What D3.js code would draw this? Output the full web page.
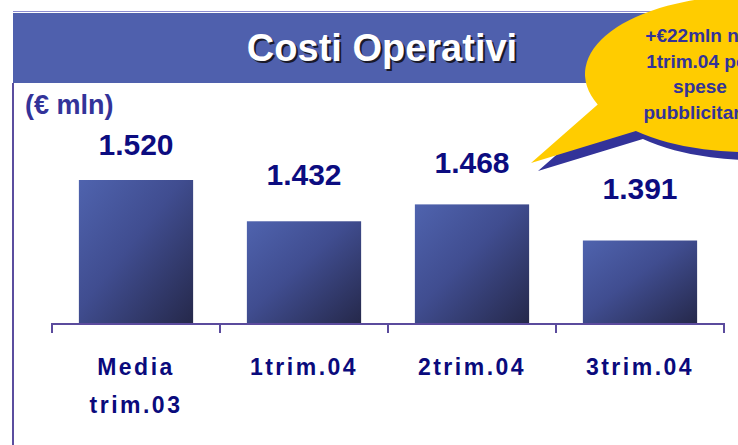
<!DOCTYPE html>
<html>
<head>
<meta charset="utf-8">
<script src="https://cdn.jsdelivr.net/npm/d3@7"></script>
<style>
  html, body { margin: 0; padding: 0; background: #fff; }
  svg { display: block; font-family: Arial, 'Liberation Sans', sans-serif; }
</style>
</head>
<body>
<div id="chart"></div>
<script>
// Data
const categories = ['Media\ntrim.03', '1trim.04', '2trim.04', '3trim.04']
const values = [1520, 1432, 1468, 1391]
const title = 'Costi Operativi'
const unitLabel = '(€ mln)'
const calloutLines = ['+€22mln nel', '1trim.04 per', 'spese', 'pubblicitarie']

function draw() {
    const dimensions = { width: 738, height: 445 }

    const svg = d3.select('#chart')
        .append('svg')
        .attr('width', dimensions.width)
        .attr('height', dimensions.height)

    const it = d3.formatLocale({ decimal: ',', thousands: '.', grouping: [3], currency: ['€', ''] })
    const fmt = it.format(',d')

    // gradient for the bars
    const defs = svg.append('defs')
    const grad = defs.append('linearGradient')
        .attr('id', 'barGrad')
        .attr('x1', 0).attr('y1', 0).attr('x2', 1).attr('y2', 1)
    grad.append('stop').attr('offset', '0%').attr('stop-color', '#4f63ae')
    grad.append('stop').attr('offset', '45%').attr('stop-color', '#404d90')
    grad.append('stop').attr('offset', '100%').attr('stop-color', '#25284a')

    // header band
    svg.append('line')
        .attr('x1', 13).attr('x2', dimensions.width)
        .attr('y1', 11.5).attr('y2', 11.5)
        .attr('stroke', '#8c8cd0').attr('stroke-width', 1)
    svg.append('rect')
        .attr('x', 13).attr('y', 13)
        .attr('width', dimensions.width - 13).attr('height', 70)
        .attr('fill', '#4f60ad')

    // left frame line
    svg.append('line')
        .attr('x1', 13).attr('x2', 13)
        .attr('y1', 83).attr('y2', dimensions.height)
        .attr('stroke', '#5b4e9f').attr('stroke-width', 2)

    // title with shadow
    svg.append('text')
        .attr('x', 384).attr('y', 63)
        .attr('text-anchor', 'middle')
        .attr('font-size', 38).attr('font-weight', 'bold')
        .attr('fill', '#1a1a2a')
        .text(title)
    svg.append('text')
        .attr('x', 382).attr('y', 61)
        .attr('text-anchor', 'middle')
        .attr('font-size', 38).attr('font-weight', 'bold')
        .attr('fill', '#fff')
        .text(title)

    svg.append('text')
        .attr('x', 25).attr('y', 114)
        .attr('font-size', 27).attr('font-weight', 'bold')
        .attr('fill', '#333399')
        .text(unitLabel)

    // scales
    const xScale = d3.scaleBand()
        .domain(categories)
        .range([52, 724])
        .paddingInner(0.32)
        .paddingOuter(0.16)

    const yScale = d3.scaleLinear()
        .domain([1213, 1520])
        .range([324, 180])

    const labelY = d3.scaleLinear()
        .domain(d3.extent(values))
        .range([199, 155])

    const gap = xScale.step() - xScale.bandwidth()

    // bars
    svg.append('g')
        .selectAll('rect')
        .data(categories)
        .join('rect')
        .attr('x', (d) => xScale(d))
        .attr('y', (d, i) => yScale(values[i]))
        .attr('width', xScale.bandwidth())
        .attr('height', (d, i) => yScale.range()[0] - yScale(values[i]))
        .attr('fill', 'url(#barGrad)')

    // value labels
    svg.append('g')
        .selectAll('text')
        .data(categories)
        .join('text')
        .attr('x', (d) => xScale(d) + xScale.bandwidth() / 2)
        .attr('y', (d, i) => labelY(values[i]))
        .attr('text-anchor', 'middle')
        .attr('font-size', 30).attr('font-weight', 'bold')
        .attr('fill', '#0c0c80')
        .text((d, i) => fmt(values[i]))

    // axis with ticks at band edges
    const axisY = yScale.range()[0]
    const edges = categories.map((d) => xScale(d) - gap / 2)
    edges.push(xScale.range()[1])
    const axis = svg.append('g')
    axis.append('path')
        .attr('d', `M${edges[0]},${axisY + 9}V${axisY}H${edges[edges.length - 1]}V${axisY + 9}`)
        .attr('fill', 'none')
        .attr('stroke', '#5b4b9d').attr('stroke-width', 2)
    axis.selectAll('line')
        .data(edges.slice(1, -1))
        .join('line')
        .attr('x1', (d) => d).attr('x2', (d) => d)
        .attr('y1', axisY).attr('y2', axisY + 9)
        .attr('stroke', '#5b4b9d').attr('stroke-width', 2)

    // category labels
    const cats = svg.append('g')
        .selectAll('text')
        .data(categories)
        .join('text')
        .attr('text-anchor', 'middle')
        .attr('font-size', 23).attr('font-weight', 'bold')
        .attr('letter-spacing', 2.5)
        .attr('fill', '#0a0a7c')
    cats.selectAll('tspan')
        .data((d) => d.split('\n').map((t) => ({ t, c: d })))
        .join('tspan')
        .attr('x', (d) => xScale(d.c) + xScale.bandwidth() / 2)
        .attr('y', (d, i) => 375 + i * 38)
        .text((d) => d.t)

    // callout bubble
    const ell = { cx: 745, cy: 74, rx: 160, ry: 78 }
    const tip = [531, 163]
    const pt = (deg) => {
        const a = deg * Math.PI / 180
        return [ell.cx + ell.rx * Math.cos(a), ell.cy + ell.ry * Math.sin(a)]
    }
    const p1 = pt(157)
    const p2 = pt(133)
    const bubblePath = `M${tip}L${p1}A${ell.rx},${ell.ry} 0 1 1 ${p2}Z`

    svg.append('path')
        .attr('d', bubblePath)
        .attr('transform', 'translate(7,8)')
        .attr('fill', '#333399')
    svg.append('path')
        .attr('d', bubblePath)
        .attr('fill', '#ffcc00')

    svg.append('g')
        .selectAll('text')
        .data(calloutLines)
        .join('text')
        .attr('x', 700)
        .attr('y', (d, i) => 42 + i * 25.5)
        .attr('text-anchor', 'middle')
        .attr('font-size', 19).attr('font-weight', 'bold')
        .attr('fill', '#333399')
        .text((d) => d)
}

draw()
</script>
</body>
</html>
